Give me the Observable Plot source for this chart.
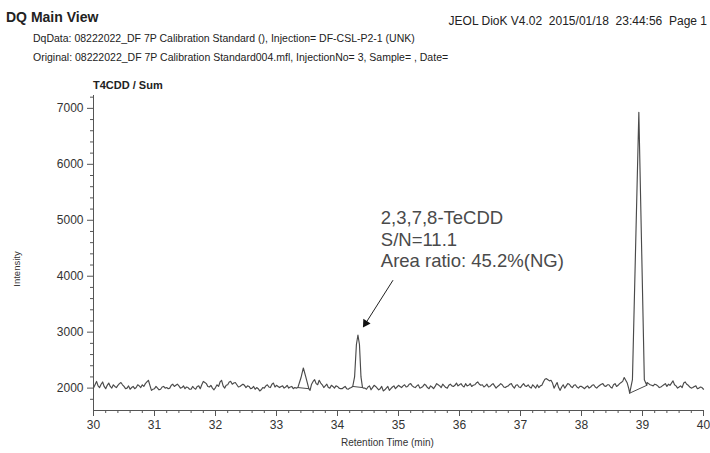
<!DOCTYPE html>
<html><head><meta charset="utf-8">
<script src="https://cdn.jsdelivr.net/npm/d3@7"></script>
<script src="https://cdn.jsdelivr.net/npm/@observablehq/plot@0.6"></script>
<style>
body{margin:0;background:#fff;font-family:"Liberation Sans",Arial,sans-serif;}
#wrap{position:relative;width:710px;height:453px;overflow:hidden;background:#fff;}
.h{position:absolute;white-space:nowrap;color:#222;line-height:1;}
</style></head><body><div id="wrap">
<div class="h" style="left:6px;top:10px;font-size:14px;font-weight:bold">DQ Main View</div>
<div class="h" style="right:3px;top:15px;font-size:12px">JEOL DioK V4.02&nbsp; 2015/01/18&nbsp; 23:44:56&nbsp; Page 1</div>
<div class="h" style="left:33px;top:33px;font-size:10.5px">DqData: 08222022_DF 7P Calibration Standard (), Injection= DF-CSL-P2-1 (UNK)</div>
<div class="h" style="left:33px;top:52px;font-size:10.5px">Original: 08222022_DF 7P Calibration Standard004.mfl, InjectionNo= 3, Sample= , Date=</div>
<div id="chart" style="position:absolute;left:0;top:70px"></div>
<div class="h" style="left:93px;top:80px;font-size:11px;font-weight:bold">T4CDD / Sum</div>
<div class="h" style="left:-5px;top:264px;font-size:9.5px;color:#333;transform:rotate(-90deg);transform-origin:22px 5px;width:44px;text-align:center">Intensity</div>
<div class="h" style="left:341px;top:438px;font-size:10px;color:#333">Retention Time (min)</div>
</div>
<script>
// --- data ---
const noiseStart = 30, noiseStep = 0.05;
// samples at 30.00, 30.05, ... 40.00
const noiseIntensity = [
  2000,2120,2010,2110,1990,2090,2000,2030,2050,2100,2030,2000,1980,2030,2010,2040,2060,2080,2140,1960,
  1990,2000,1980,2030,2010,2000,2070,2050,2040,2010,1990,2010,1980,2000,2030,1990,2120,2080,2020,2000,
  2010,2030,2140,2000,2060,2120,2090,2060,2030,2070,2010,2030,2000,1980,1990,1970,2000,2060,2010,2090,
  2050,2010,2040,2020,2000,2030,2010,2010,2000,2000,2000,1960,2120,2080,2140,2060,2040,2010,2050,2000,
  2030,1990,2010,1990,2000,2030,2000,2000,2000,2000,2020,1970,2050,2000,1990,1950,2000,1960,2020,1990,
  2050,2010,2060,2030,2080,2020,2040,2000,2030,2050,1990,2020,2030,2060,2010,2040,2000,2070,2030,2090,
  2060,2040,2080,2050,2030,2060,2110,2050,2020,2070,2030,2080,2000,2050,2060,2010,2040,2080,2000,2060,
  2010,2080,2030,2020,2060,2000,2010,2050,2160,2150,2140,2000,2100,1960,2060,2040,2070,2010,2060,2000,
  2030,1990,2040,2020,2060,2000,2050,2080,2030,2060,2000,2080,2050,2100,2190,2090,2000,2000,2000,2000,
  2050,2050,2080,2050,2070,2040,2020,2060,2030,2050,2130,2040,2020,2010,2110,2050,2000,2030,1990,2020,
  1980
];
// samples at 30.025, 30.075, ... 39.975
const noiseMidIntensity = [
  2060,2040,2070,2030,2050,2030,2060,2010,2080,2060,1990,2040,2010,1990,2060,2010,2030,2110,2050,1980,
  2030,1970,2020,2000,1990,2050,2030,2070,2000,2040,2020,1980,2030,1980,2040,2060,2100,2030,2050,1970,
  2060,2110,2040,2050,2110,2070,2100,2020,2050,2050,2040,1990,2030,2010,1950,2010,2040,2020,2070,2020,
  2030,2030,2000,2050,2020,1990,2000,2000,2000,2000,2000,2070,2150,2060,2090,2010,2070,2000,2030,2040,
  2000,1990,2030,1980,2010,2000,2000,2000,2000,1980,2040,2010,2030,1970,2030,1970,2030,1990,2040,2020,
  2030,2040,2020,2070,2040,2010,2060,2010,2070,2010,2040,1990,2080,2040,2070,2010,2050,2040,2050,2040,
  2080,2020,2040,2080,2050,2090,2070,2060,2040,2020,2060,2040,2030,2080,2020,2030,2070,2030,2050,2020,
  2050,2040,2060,2000,2030,2060,2040,2110,2170,2130,2090,2050,2010,2020,2000,2080,2030,2050,2020,2030,
  2010,2020,2000,2050,2020,2030,2070,2040,2060,2020,2060,2030,2080,2120,2140,1990,2000,2000,2000,2000,
  2000,2100,2060,2040,2060,2010,2040,2080,2070,2090,2060,2000,2040,2090,2070,2020,2010,2040,2000,2010
];
const peakA_RT = [33.35, 33.40, 33.44, 33.48, 33.53];
const peakA_I  = [2010, 2180, 2360, 2200, 1990];
const peakB_RT = [34.25, 34.28, 34.31, 34.335, 34.36, 34.385, 34.41];
const peakB_I  = [2030, 2200, 2780, 2950, 2780, 2200, 2010];
const peakC_RT = [38.79, 38.835, 38.94, 39.03, 39.07];
const peakC_I  = [1910, 2150, 6930, 2150, 2050];

const annotationLines = ["2,3,7,8-TeCDD", "S/N=11.1", "Area ratio: 45.2%(NG)"];
const annotationRT = 34.71;
const annotationI = 4672; // centre of the middle line
const arrowFrom = [34.91, 3929];
const arrowTo = [34.445, 3130];
const arrowHead = [34.461, 3160];

const yMajor = [2000, 3000, 4000, 5000, 6000, 7000];
const xMajor = [30, 31, 32, 33, 34, 35, 36, 37, 38, 39, 40];
const yMinor = d3.range(1800, 7201, 200).filter(v => v % 1000 !== 0);
const xMinor = d3.range(0, 51).filter(i => i % 5 !== 0).map(i => 30 + i * 0.2);

// --- build table ---
const peaks = [
  {name: "A", rt: peakA_RT, i: peakA_I},
  {name: "B", rt: peakB_RT, i: peakB_I},
  {name: "C", rt: peakC_RT, i: peakC_I}
];
const inPeak = rt => peaks.some(p => rt >= p.rt[0] - 1e-9 && rt <= p.rt[p.rt.length - 1] + 1e-9);
const trace = [];
noiseIntensity.forEach((v, k) => {
  const rt = +(noiseStart + k * noiseStep).toFixed(3);
  if (!inPeak(rt)) trace.push({rt, intensity: v});
});
noiseMidIntensity.forEach((v, k) => {
  const rt = +(noiseStart + noiseStep / 2 + k * noiseStep).toFixed(3);
  if (!inPeak(rt)) trace.push({rt, intensity: v});
});
peaks.forEach(p => p.rt.forEach((rt, k) => trace.push({rt, intensity: p.i[k]})));
trace.sort((a, b) => a.rt - b.rt);
const baselines = peaks.flatMap(p => [
  {peak: p.name, rt: p.rt[0], intensity: p.i[0]},
  {peak: p.name, rt: p.rt[p.rt.length - 1], intensity: p.i[p.i.length - 1]}
]);
const annotation = [{t: annotationLines.join("\n"), rt: annotationRT, intensity: annotationI}];

const chart = Plot.plot({
  width: 710, height: 383,
  marginLeft: 93, marginRight: 7, marginTop: 25, marginBottom: 43,
  x: {domain: [30, 40]},
  y: {domain: [1600, 7230]},
  style: {fontFamily: "'Liberation Sans', Arial, sans-serif", color: "#333", background: "white", overflow: "visible"},
  marks: [
    Plot.ruleX([30], {y1: 1600, y2: 7230, stroke: "#555"}),
    Plot.ruleY([1600], {stroke: "#555"}),
    Plot.axisY({ticks: yMajor, tickFormat: "d", tickSize: 6, tickPadding: 4, fontSize: 12, label: null, stroke: "#555"}),
    Plot.axisY({ticks: yMinor, tickSize: 3, text: null, label: null, stroke: "#555"}),
    Plot.axisX({ticks: xMajor, tickFormat: "d", tickSize: 6, tickPadding: 4, fontSize: 12, label: null, stroke: "#555"}),
    Plot.axisX({ticks: xMinor, tickSize: 3, text: null, label: null, stroke: "#555"}),
    Plot.line(trace, {x: "rt", y: "intensity", stroke: "#4a4a4a", strokeWidth: 1.15}),
    Plot.line(baselines, {x: "rt", y: "intensity", z: "peak", stroke: "#4a4a4a", strokeWidth: 1}),
    Plot.text(annotation, {x: "rt", y: "intensity", text: "t", textAnchor: "start", lineAnchor: "middle",
      lineHeight: 1.18, fontSize: 18.5, fill: "#4a4a4a", fontFamily: "'Liberation Sans', Arial, sans-serif"}),
    Plot.link([0], {x1: () => arrowFrom[0], y1: () => arrowFrom[1], x2: () => arrowTo[0], y2: () => arrowTo[1], stroke: "#222", strokeWidth: 1}),
    Plot.dot([0], {x: () => arrowHead[0], y: () => arrowHead[1], symbol: "triangle", r: 3.2, rotate: 212.5, fill: "#111", stroke: "none"})
  ]
});
document.getElementById("chart").appendChild(chart);
</script>
</body></html>
